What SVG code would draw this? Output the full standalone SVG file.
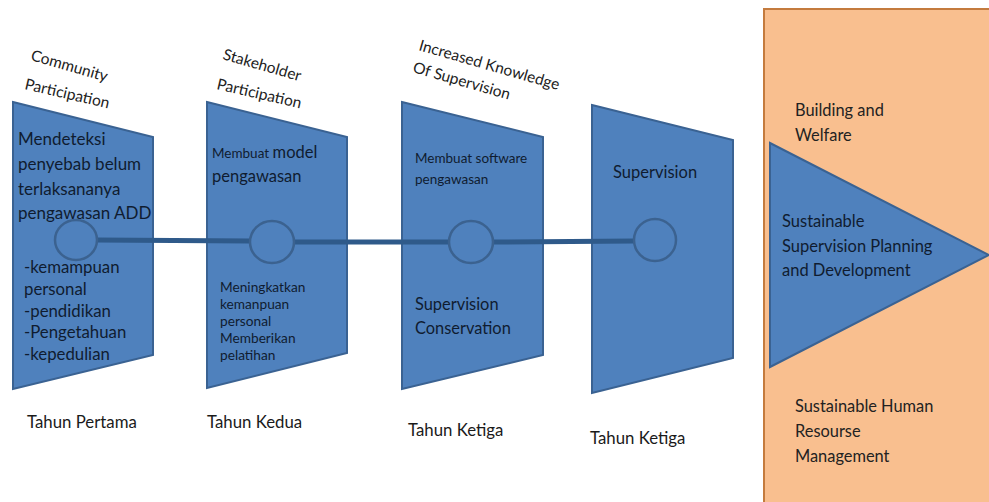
<svg xmlns="http://www.w3.org/2000/svg" width="989" height="502" viewBox="0 0 989 502">
<style>
.shape{fill:#4f81bd;stroke:#3a6292;stroke-width:2}
.node-circle{fill:#4f81bd;stroke:#3b6290;stroke-width:2.5}
.conn{stroke:#2f5a8a;stroke-width:5;fill:none}
text{font-family:Lato,"Open Sans","Liberation Sans",sans-serif}
.in{fill:#0f1c30}
.lbl{fill:#1a1a1a;font-size:16.8px}
.top{fill:#222;font-size:15.5px}
.org{fill:#222;font-size:16.4px}
</style>
<rect x="0" y="0" width="989" height="502" fill="#ffffff"/>
<g id="outcome-box">
<rect x="764" y="9" width="230" height="500" fill="#f9bf8f" stroke="#c47b3e" stroke-width="2"/>
<text class="org" x="795" y="116">Building and</text>
<text class="org" x="795" y="141">Welfare</text>
<text class="org" x="795" y="412">Sustainable Human</text>
<text class="org" x="795" y="437">Resourse</text>
<text class="org" x="795" y="462">Management</text>
</g>
<g id="outcome-triangle">
<polygon class="shape" points="770,143 989,255 770,367"/>
<text class="in" font-size="16.5" x="782" y="227">Sustainable</text>
<text class="in" font-size="16.5" x="782" y="252">Supervision Planning</text>
<text class="in" font-size="16.5" x="782" y="276">and Development</text>
</g>
<g id="stage1">
<polygon class="shape" points="13,102 153,137 153,355 13,389"/>
<text class="in" font-size="17" x="18" y="145">Mendeteksi</text>
<text class="in" font-size="17" x="18" y="170">penyebab belum</text>
<text class="in" font-size="17" x="18" y="195">terlaksananya</text>
<text class="in" font-size="17" x="18" y="219">pengawasan ADD</text>
<text class="in" font-size="16.8" x="24" y="273">-kemampuan</text>
<text class="in" font-size="16.8" x="24" y="295">personal</text>
<text class="in" font-size="16.8" x="24" y="317">-pendidikan</text>
<text class="in" font-size="16.8" x="24" y="338">-Pengetahuan</text>
<text class="in" font-size="16.8" x="24" y="360">-kepedulian</text>
<text class="top" transform="translate(30,60) rotate(16)">Community</text>
<text class="top" transform="translate(24,89) rotate(13)">Participation</text>
<text class="lbl" x="27" y="428">Tahun Pertama</text>
</g>
<g id="stage2">
<polygon class="shape" points="207,102 347,137 347,353 207,388"/>
<text class="in" x="212" y="158"><tspan font-size="13.5">Membuat </tspan><tspan font-size="16.5">model</tspan></text>
<text class="in" font-size="16.5" x="212" y="182">pengawasan</text>
<text class="in" font-size="13.7" x="220" y="292">Meningkatkan</text>
<text class="in" font-size="13.7" x="220" y="309">kemanpuan</text>
<text class="in" font-size="13.7" x="220" y="326">personal</text>
<text class="in" font-size="13.7" x="220" y="343">Memberikan</text>
<text class="in" font-size="13.7" x="220" y="360">pelatihan</text>
<text class="top" transform="translate(222,59) rotate(16)">Stakeholder</text>
<text class="top" transform="translate(216,89) rotate(13)">Participation</text>
<text class="lbl" x="207" y="428">Tahun Kedua</text>
</g>
<g id="stage3">
<polygon class="shape" points="402,102 543,137 543,355 402,389"/>
<text class="in" font-size="13.5" x="415" y="163">Membuat software</text>
<text class="in" font-size="13.5" x="415" y="184">pengawasan</text>
<text class="in" font-size="16.4" x="415" y="310">Supervision</text>
<text class="in" font-size="16.4" x="415" y="334">Conservation</text>
<text class="top" font-size="13.5" transform="translate(418,50) rotate(16)">Increased Knowledge</text>
<text class="top" font-size="13.5" transform="translate(412,72) rotate(16)">Of Supervision</text>
<text class="lbl" x="408" y="436">Tahun Ketiga</text>
</g>
<g id="stage4">
<polygon class="shape" points="592,105 733,140 733,358 592,393"/>
<text class="in" font-size="16.5" x="613" y="178">Supervision</text>
<text class="lbl" x="590" y="444">Tahun Ketiga</text>
</g>
<g id="connectors">
<line class="conn" x1="97" y1="240" x2="250" y2="241"/>
<line class="conn" x1="294" y1="242" x2="449" y2="242"/>
<line class="conn" x1="493" y1="242" x2="634" y2="241"/>
</g>
<g id="hubs">
<ellipse class="node-circle" cx="76" cy="240" rx="21" ry="20"/>
<ellipse class="node-circle" cx="272" cy="242" rx="22" ry="21"/>
<ellipse class="node-circle" cx="471" cy="242" rx="22" ry="21"/>
<ellipse class="node-circle" cx="655" cy="240" rx="21" ry="21"/>
</g>
</svg>
